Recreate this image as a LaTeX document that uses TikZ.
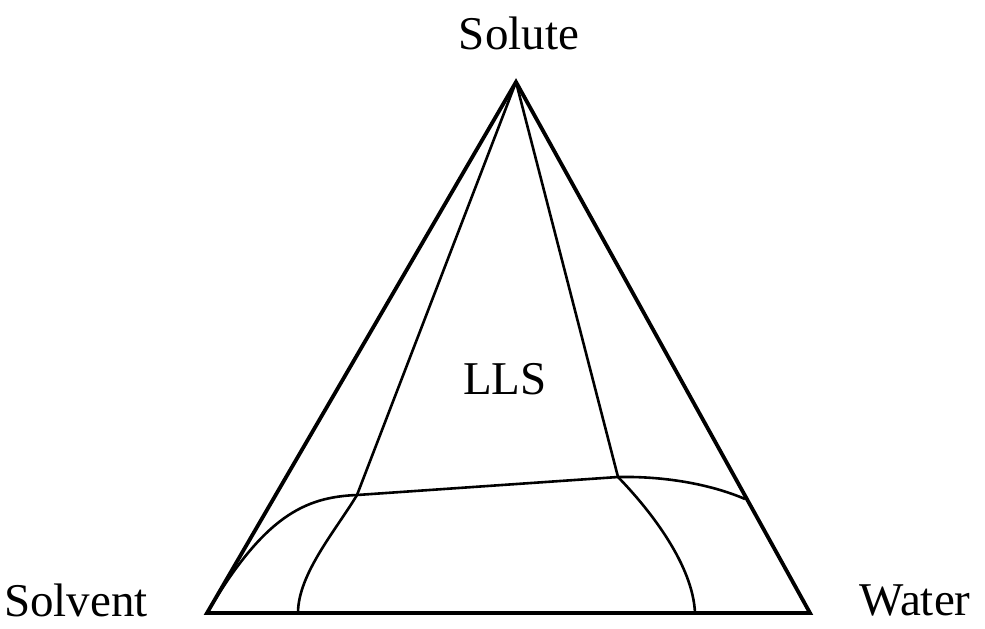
\documentclass[tikz,border=0pt]{standalone}
\usepackage{fontspec}
\setmainfont{Liberation Serif}
\usepackage{tikz}

\begin{document}
\begin{tikzpicture}[
  x=0.5pt, y=-0.5pt,
  font=\fontsize{23.5}{28}\selectfont,
  side/.style={line width=1.9pt, line join=miter},
  curve/.style={line width=1.3pt},
  lbl/.style={inner sep=0pt, anchor=center}
]
  \useasboundingbox (0,0) rectangle (985,628);

  \coordinate (top) at (516,82);
  \coordinate (lft) at (207,613);
  \coordinate (rgt) at (810,613);
  \coordinate (pl) at (357,495);
  \coordinate (pr) at (618,477);
  \coordinate (pe) at (745,499);
  \coordinate (bl) at (298,613);
  \coordinate (br) at (695,613);

  \node[lbl] (solute) at (519,33) {Solute};
  \node[lbl] (solvent) at (76,600) {Solvent};
  \node[lbl] (water) at (915,600) {Water};
  \node[lbl] (lls) at (505,379) {LLS};

  \draw[side] (top) -- (lft) -- (rgt) -- cycle;

  \draw[curve] (lft) .. controls (264,516) and (305,497) .. (pl) -- (pr)
    .. controls (670,476) and (715,486) .. (pe);
  \draw[curve] (top) -- (pl) .. controls (336,530) and (298,574) .. (bl);
  \draw[curve] (top) -- (pr) .. controls (652,512) and (693,566) .. (br);
\end{tikzpicture}
\end{document}
